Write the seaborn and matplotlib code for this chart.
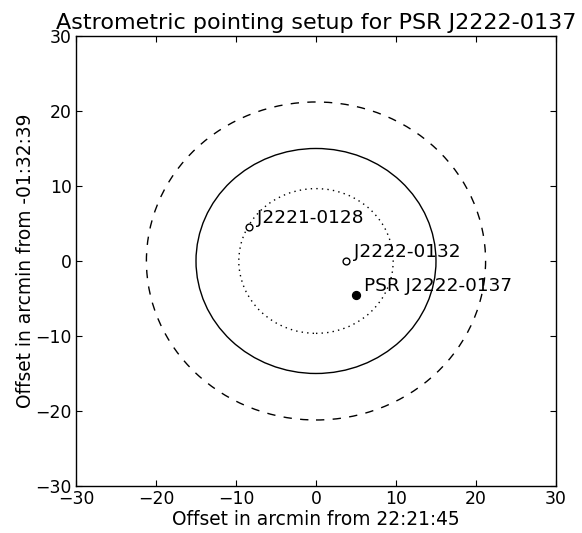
import numpy as np
import pandas as pd
import matplotlib
matplotlib.use("Agg")
import matplotlib.pyplot as plt
from matplotlib.patches import Circle
import seaborn as sns

# Data
source_names = ["J2221-0128", "J2222-0132", "PSR J2222-0137"]
source_x = [-8.4, 3.8, 5.0]
source_y = [4.55, 0.0, -4.55]
source_kind = ["calibrator", "calibrator", "target"]

circle_radii = [21.2, 15.0, 9.65]
circle_styles = [(0, (6, 6)), "solid", (0, (1, 3))]

ticks = [-30, -20, -10, 0, 10, 20, 30]

sns.set_style("ticks")
plt.rcParams["font.family"] = ["DejaVu Sans"]
plt.rcParams.update({
    "xtick.direction": "in", "ytick.direction": "in",
    "xtick.top": True, "ytick.right": True,
    "xtick.major.size": 4, "ytick.major.size": 4,
    "xtick.major.width": 0.8, "ytick.major.width": 0.8,
    "axes.linewidth": 1.0, "axes.edgecolor": "black",
    "xtick.color": "black", "ytick.color": "black",
    "xtick.labelcolor": "black", "ytick.labelcolor": "black",
    "text.color": "black", "axes.labelcolor": "black",
    "font.size": 12, "axes.labelsize": 13.4,
    "xtick.labelsize": 12.4, "ytick.labelsize": 12.4,
    "axes.titlesize": 16,
    "axes.unicode_minus": True,
})

fig = plt.figure(figsize=(5.82, 5.33), dpi=100)
ax = fig.add_axes([0.1306, 0.0882, 0.8247, 0.8443])

for r, ls in zip(circle_radii, circle_styles):
    ax.add_patch(Circle((0, 0), r, fill=False, edgecolor="black",
                        linewidth=1.0, linestyle=ls))

df = pd.DataFrame({"x": source_x, "y": source_y, "name": source_names,
                   "kind": source_kind})
cal = df[df.kind == "calibrator"]
tgt = df[df.kind == "target"]
sns.scatterplot(data=cal, x="x", y="y", ax=ax, s=24, facecolor="white",
                edgecolor="black", linewidth=1.0, zorder=5)
sns.scatterplot(data=tgt, x="x", y="y", ax=ax, s=32, color="black",
                edgecolor="black", linewidth=1.0, zorder=5)

for _, row in df.iterrows():
    ax.text(row.x + 1.0, row.y + 0.5, row["name"], fontsize=13.3,
            ha="left", va="baseline", color="black")

ax.set_xlim(-30, 30)
ax.set_ylim(-30, 30)
ax.set_xticks(ticks)
ax.set_yticks(ticks)
ax.set_xlabel("Offset in arcmin from 22:21:45", labelpad=1.5)
ax.set_ylabel("Offset in arcmin from -01:32:39", labelpad=0)
ax.set_title("Astrometric pointing setup for PSR J2222-0137", pad=5)
ax.tick_params(pad=3)

fig.savefig("out.png", dpi=100, facecolor="white")
